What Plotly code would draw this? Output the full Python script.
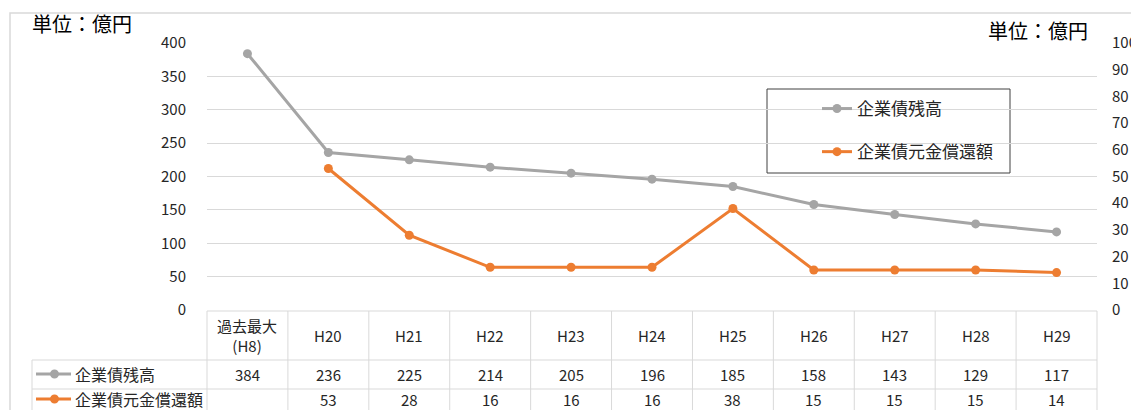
import plotly.graph_objects as go

# ---- data ----
categories = ["過去最大(H8)", "H20", "H21", "H22", "H23", "H24", "H25", "H26", "H27", "H28", "H29"]
header_labels = ["過去最大<br>(H8)", "H20", "H21", "H22", "H23", "H24", "H25", "H26", "H27", "H28", "H29"]
bond_balance = [384, 236, 225, 214, 205, 196, 185, 158, 143, 129, 117]
bond_redemption = [None, 53, 28, 16, 16, 16, 38, 15, 15, 15, 14]
series_names = ["企業債残高", "企業債元金償還額"]

GRAY = "#A5A5A5"
ORANGE = "#ED7D31"
GRID = "#D9D9D9"
TEXT = "#262626"
FONT = "Noto Sans CJK JP"

W, H = 1131, 410
L, R, T, B = 207, 1097, 43, 310  # plot area in pixels


def fx(p):
    return (p - L) / (R - L)


def fy(p):
    return (B - p) / (B - T)


def label(x, y, text, size, xanchor="center", color=TEXT):
    return dict(x=fx(x), y=fy(y), xref="paper", yref="paper", text=text,
                showarrow=False, xanchor=xanchor, yanchor="middle",
                font=dict(size=size, color=color, family=FONT))


fig = go.Figure()
fig.add_trace(go.Scatter(
    x=categories, y=bond_balance, name=series_names[0], mode="lines+markers",
    line=dict(color=GRAY, width=3), marker=dict(size=9, color=GRAY),
    legendgroup="a",
))
fig.add_trace(go.Scatter(
    x=categories, y=bond_redemption, name=series_names[1], mode="lines+markers",
    line=dict(color=ORANGE, width=3), marker=dict(size=9, color=ORANGE),
    yaxis="y2", legendgroup="b", connectgaps=False,
))

shapes = []
annotations = []

# outer chart border
shapes.append(dict(type="rect", xref="paper", yref="paper",
                   x0=fx(10), x1=fx(1140), y0=fy(420), y1=fy(13),
                   line=dict(color=GRID, width=1.5), layer="below"))

# legend frame
shapes.append(dict(type="rect", xref="paper", yref="paper",
                   x0=fx(767), x1=fx(1010), y0=fy(173), y1=fy(89),
                   line=dict(color="#404040", width=1), fillcolor="white", layer="below"))

# data table grid
n = len(categories)
col_w = (R - L) / n
for y in (311, 360, 389):
    x_start = L if y == 311 else 32
    shapes.append(dict(type="line", xref="paper", yref="paper",
                       x0=fx(x_start), x1=fx(R), y0=fy(y), y1=fy(y),
                       line=dict(color=GRID, width=1)))
for k in range(n + 1):
    xp = L + k * col_w
    shapes.append(dict(type="line", xref="paper", yref="paper",
                       x0=fx(xp), x1=fx(xp), y0=fy(311), y1=fy(420),
                       line=dict(color=GRID, width=1)))
shapes.append(dict(type="line", xref="paper", yref="paper",
                   x0=fx(32), x1=fx(32), y0=fy(360), y1=fy(420),
                   line=dict(color=GRID, width=1)))

# table cells
for i in range(n):
    cx = L + (i + 0.5) * col_w
    annotations.append(label(cx, 335, header_labels[i], 15))
    annotations.append(label(cx, 374, str(bond_balance[i]), 15))
    if bond_redemption[i] is not None:
        annotations.append(label(cx, 399, str(bond_redemption[i]), 15))

# row keys in the table
for yk, color, name in [(374, GRAY, series_names[0]), (399, ORANGE, series_names[1])]:
    shapes.append(dict(type="line", xref="paper", yref="paper",
                       x0=fx(36), x1=fx(71), y0=fy(yk), y1=fy(yk),
                       line=dict(color=color, width=3)))
    shapes.append(dict(type="circle", xref="paper", yref="paper",
                       x0=fx(50), x1=fx(59), y0=fy(yk + 4.5), y1=fy(yk - 4.5),
                       line=dict(color=color, width=0), fillcolor=color))
    annotations.append(label(73, yk, name, 16, xanchor="left"))

# unit labels
annotations.append(label(30, 23, "単位：億円", 20, xanchor="left", color="#000000"))
annotations.append(label(1090, 30, "単位：億円", 20, xanchor="right", color="#000000"))

fig.update_layout(
    width=W, height=H,
    margin=dict(l=L, r=W - R, t=T, b=H - B),
    paper_bgcolor="white", plot_bgcolor="white",
    font=dict(family=FONT, size=14, color=TEXT),
    showlegend=True,
    legend=dict(x=fx(817), y=fy(91), xanchor="left", yanchor="top",
                bgcolor="rgba(0,0,0,0)", borderwidth=0, tracegroupgap=18,
                font=dict(size=17, color=TEXT, family=FONT)),
    xaxis=dict(type="category", range=[-0.5, n - 0.5], showticklabels=False,
               showgrid=False, zeroline=False, showline=False, ticks="",
               automargin=False),
    yaxis=dict(range=[0, 400], dtick=50, showgrid=True, gridcolor=GRID, gridwidth=1,
               zeroline=False, showline=False, ticks="", ticklabelstandoff=20,
               automargin=False, tickfont=dict(size=15, color=TEXT)),
    yaxis2=dict(range=[0, 100], dtick=10, overlaying="y", side="right",
                showgrid=False, zeroline=False, showline=False, ticks="",
                ticklabelstandoff=14, automargin=False,
                tickfont=dict(size=15, color=TEXT)),
    shapes=shapes, annotations=annotations,
)

fig.write_html("out.html")
